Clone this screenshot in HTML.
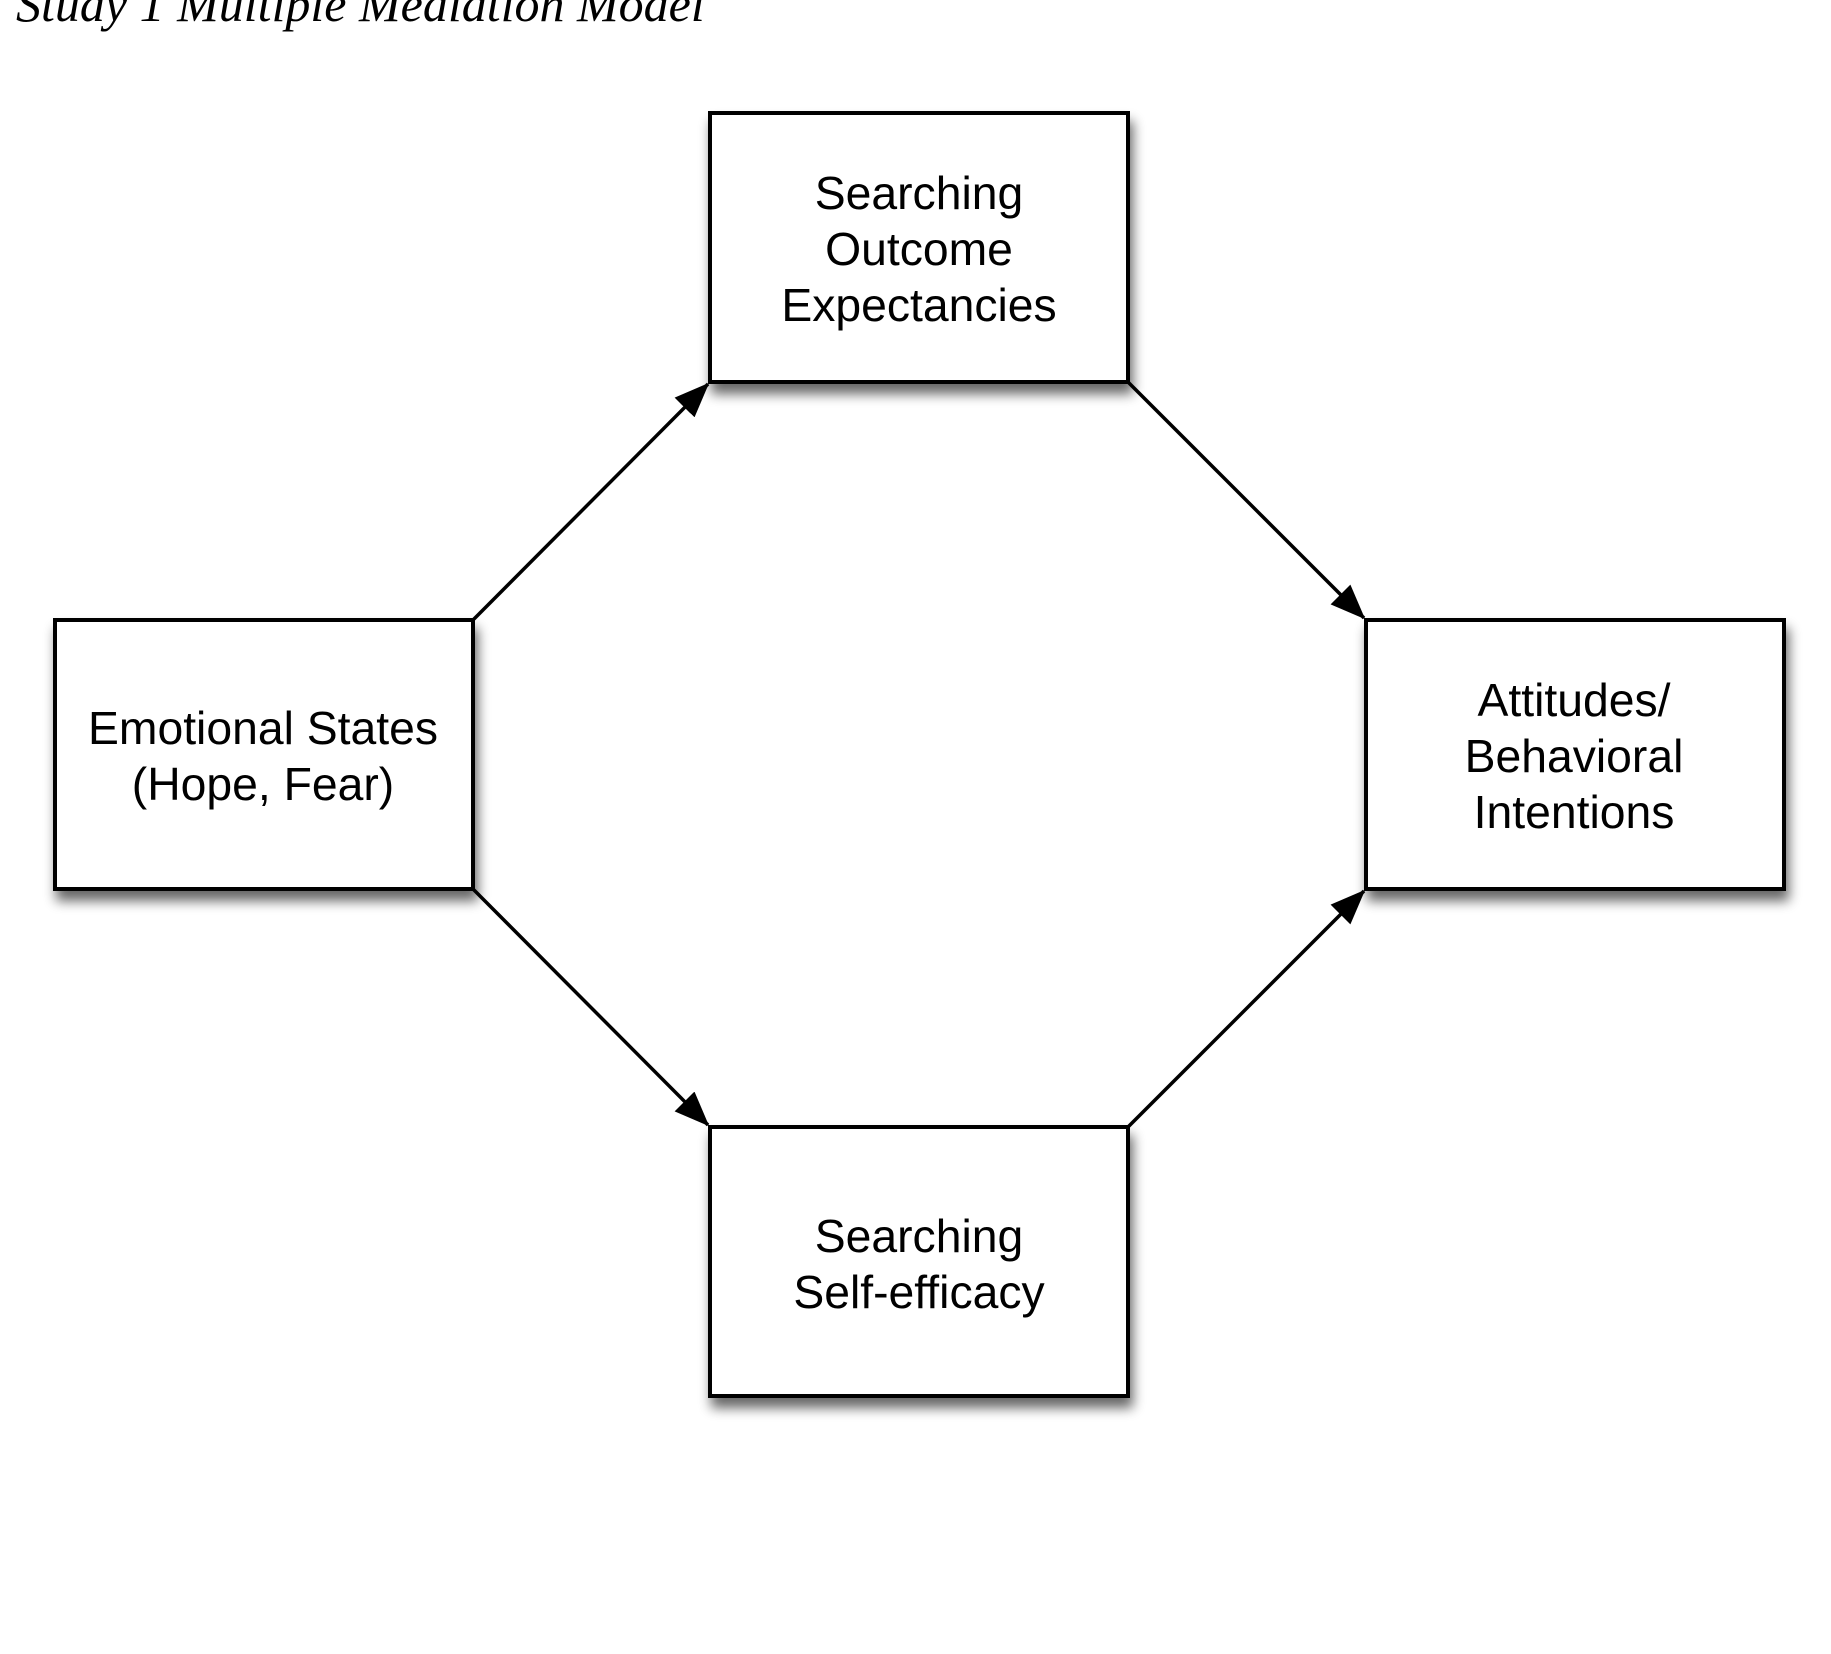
<!DOCTYPE html>
<html><head><meta charset="utf-8"><style>
html,body{margin:0;padding:0;background:#fff;}
svg{display:block;}
</style></head><body>
<svg width="1831" height="1654" viewBox="0 0 1831 1654" xmlns="http://www.w3.org/2000/svg">
<defs>
<filter id="sh" x="-10%" y="-10%" width="130%" height="140%">
<feGaussianBlur in="SourceAlpha" stdDeviation="6"/>
<feOffset dx="3" dy="10" result="b"/>
<feComponentTransfer><feFuncA type="linear" slope="0.6"/></feComponentTransfer>
<feMerge><feMergeNode/><feMergeNode in="SourceGraphic"/></feMerge>
</filter>
<marker id="ar" markerWidth="10" markerHeight="8" refX="9.5" refY="4" orient="auto" markerUnits="strokeWidth">
<path d="M0,0 L10,4 L0,8 z" fill="#000"/>
</marker>
</defs>
<text x="16" y="21" font-family="Liberation Serif, serif" font-style="italic" font-size="50" fill="#000">Study 1 Multiple Mediation Model</text>
<g fill="#fff" stroke="#000" stroke-width="4" filter="url(#sh)">
<rect x="710" y="113" width="418" height="269"/>
<rect x="55" y="620" width="418" height="269"/>
<rect x="1366" y="620" width="418" height="269"/>
<rect x="710" y="1127" width="418" height="269"/>
</g>
<g stroke="#000" stroke-width="3.5" marker-end="url(#ar)">
<line x1="473" y1="620" x2="708" y2="384"/>
<line x1="1128" y1="382" x2="1364" y2="618"/>
<line x1="473" y1="889" x2="708" y2="1125"/>
<line x1="1128" y1="1127" x2="1364" y2="891"/>
</g>
<g font-family="Liberation Sans, sans-serif" font-size="46.3" text-anchor="middle" fill="#000">
<text x="919" y="209">Searching</text>
<text x="919" y="265">Outcome</text>
<text x="919" y="321">Expectancies</text>
<text x="263" y="744">Emotional States</text>
<text x="263" y="800">(Hope, Fear)</text>
<text x="1574" y="716">Attitudes/</text>
<text x="1574" y="772">Behavioral</text>
<text x="1574" y="828">Intentions</text>
<text x="919" y="1252">Searching</text>
<text x="919" y="1308">Self-efficacy</text>
</g>
</svg>
</body></html>
